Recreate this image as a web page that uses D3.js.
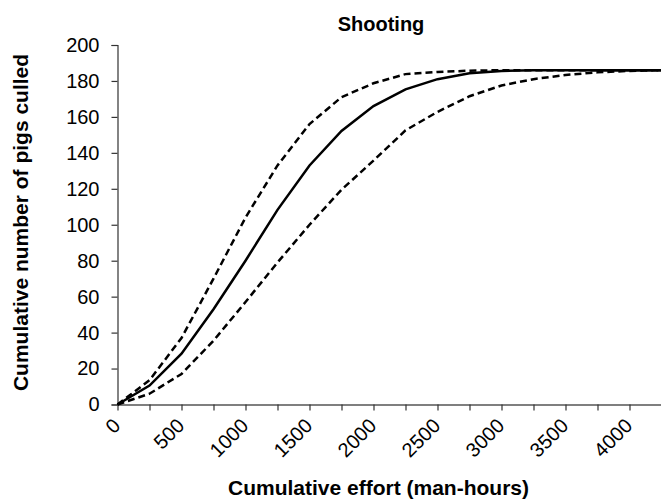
<!DOCTYPE html>
<html>
<head>
<meta charset="utf-8">
<script src="https://cdn.jsdelivr.net/npm/d3@7"></script>
<style>
  html, body { margin: 0; padding: 0; background: #fff; }
  svg { display: block; font-family: "Liberation Sans", Arial, sans-serif; }
</style>
</head>
<body>
<svg id="chart" width="661" height="502"></svg>
<script>
// Data
const effort = [0, 250, 500, 750, 1000, 1250, 1500, 1750, 2000, 2250, 2500, 2750, 3000, 3250, 3500, 3750, 4000, 4250];
const meanCulled  = [0, 10.5, 28.3, 53, 80, 108.3, 133, 152.2, 166, 175.3, 181, 184.3, 185.6, 186, 186, 186, 186, 186];
const upperCulled = [0, 13.5, 37, 70, 104, 133, 156, 171, 178.7, 183.8, 185, 185.7, 186, 186, 186, 186, 186, 186];
const lowerCulled = [0, 6, 17, 35.5, 57, 79, 100, 119.5, 135.7, 152.5, 162.8, 171.5, 177.5, 181, 183.3, 184.8, 185.6, 186];
const xTicks = [0, 250, 500, 750, 1000, 1250, 1500, 1750, 2000, 2250, 2500, 2750, 3000, 3250, 3500, 3750, 4000];
const xTickLabels = [0, 500, 1000, 1500, 2000, 2500, 3000, 3500, 4000];
const yTicks = [0, 20, 40, 60, 80, 100, 120, 140, 160, 180, 200];
const titleText = "Shooting";
const xLabel = "Cumulative effort (man-hours)";
const yLabel = "Cumulative number of pigs culled";

const svg = d3.select("#chart");
const x = d3.scaleLinear().domain([0, 4250]).range([117.5, 661.5]);
const y = d3.scaleLinear().domain([0, 200]).range([404.5, 45]);

// Y axis
const yAxis = svg.append("g").attr("transform", `translate(${x(0)},0)`)
  .call(d3.axisLeft(y).tickValues(yTicks).tickSize(6).tickPadding(12).tickFormat(d3.format("d")));
yAxis.select(".domain").attr("stroke", "#333").attr("stroke-width", 1.2);
yAxis.selectAll(".tick line").attr("stroke", "#333").attr("stroke-width", 1.2);
yAxis.selectAll(".tick text").attr("font-size", 20).attr("fill", "#000")
  .attr("font-family", "Liberation Sans, Arial, sans-serif");

// X axis
const xAxis = svg.append("g").attr("transform", `translate(0,${y(0)})`)
  .call(d3.axisBottom(x).tickValues(xTicks).tickSize(6).tickSizeOuter(0).tickFormat(""));
xAxis.select(".domain").attr("stroke", "#555").attr("stroke-width", 1.5);
xAxis.selectAll(".tick line").attr("stroke", "#333").attr("stroke-width", 1.2);

svg.append("g").selectAll("text").data(xTickLabels).join("text")
  .attr("transform", d => `translate(${x(d) + 4},427) rotate(-45)`)
  .attr("text-anchor", "end")
  .attr("font-size", 20)
  .attr("fill", "#000")
  .text(d => d);

// Lines
const line = vals => d3.line().x((d, i) => x(effort[i])).y(d => y(d))(vals);
const plot = svg.append("g");
plot.append("path").attr("d", line(lowerCulled)).attr("fill", "none")
  .attr("stroke", "#000").attr("stroke-width", 2.5).attr("stroke-dasharray", "7,4");
plot.append("path").attr("d", line(upperCulled)).attr("fill", "none")
  .attr("stroke", "#000").attr("stroke-width", 2.5).attr("stroke-dasharray", "7,4");
plot.append("path").attr("d", line(meanCulled)).attr("fill", "none")
  .attr("stroke", "#000").attr("stroke-width", 2.5);

// Titles
svg.append("text").attr("x", 381).attr("y", 31).attr("text-anchor", "middle")
  .attr("font-size", 20).attr("font-weight", "bold").text(titleText);
svg.append("text").attr("x", 378.5).attr("y", 495).attr("text-anchor", "middle")
  .attr("font-size", 21).attr("font-weight", "bold").text(xLabel);
svg.append("text").attr("transform", "translate(28,222.5) rotate(-90)").attr("text-anchor", "middle")
  .attr("font-size", 21).attr("font-weight", "bold").text(yLabel);
</script>
</body>
</html>
